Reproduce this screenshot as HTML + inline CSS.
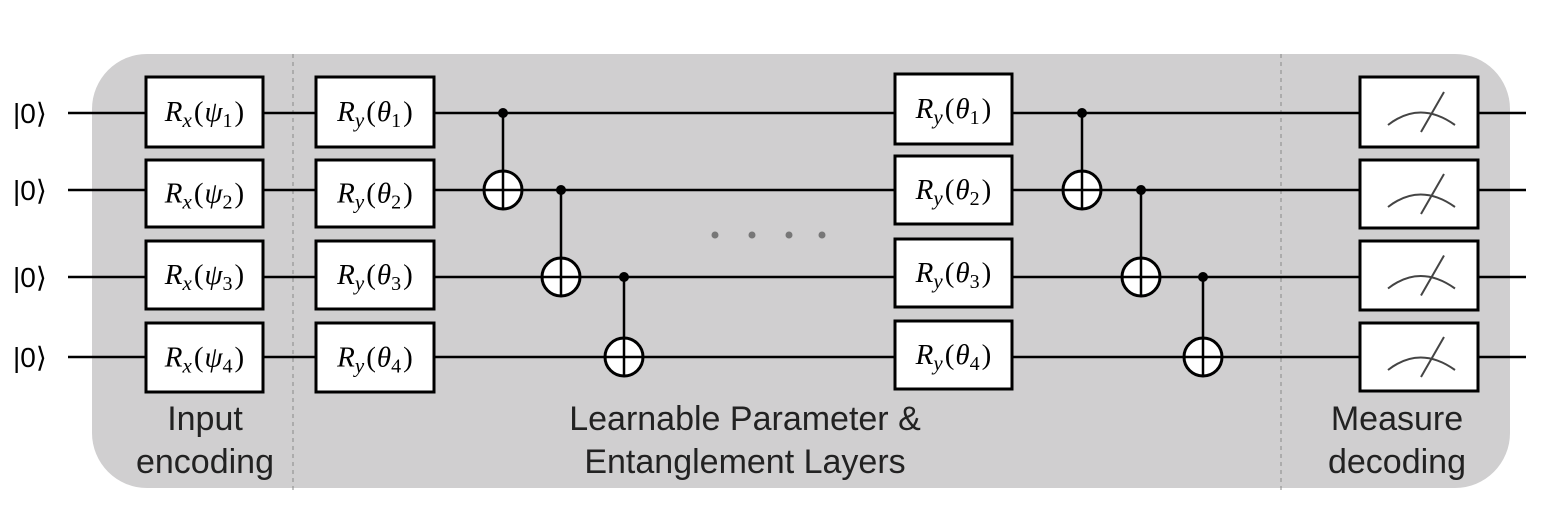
<!DOCTYPE html>
<html><head><meta charset="utf-8"><style>
html,body{margin:0;padding:0;background:#fff;width:1550px;height:528px;overflow:hidden}
svg{display:block}
.g{font-family:"Liberation Serif",serif;font-style:italic;font-size:29px}
.lbl{font-family:"Liberation Sans","Noto Sans CJK KR",sans-serif;font-size:34px;fill:#222}
</style></head><body>
<svg id="c" width="1550" height="528" viewBox="0 0 1550 528">
<rect x="92" y="54" width="1418" height="434" rx="55" fill="#d0cfd0"/>
<line x1="293" y1="54" x2="293" y2="490" stroke="#888" stroke-dasharray="4,4"/>
<line x1="1281" y1="54" x2="1281" y2="490" stroke="#888" stroke-dasharray="4,4"/>
<g id="layer"></g>
<text class="lbl" x="205" y="430" text-anchor="middle">Input</text>
<text class="lbl" x="205" y="473" text-anchor="middle">encoding</text>
<text class="lbl" x="745" y="430" text-anchor="middle">Learnable Parameter &amp;</text>
<text class="lbl" x="745" y="473" text-anchor="middle">Entanglement Layers</text>
<text class="lbl" x="1397" y="430" text-anchor="middle">Measure</text>
<text class="lbl" x="1397" y="473" text-anchor="middle">decoding</text>
</svg>
<script>
const wireY=[113,190,277,357];
const rxBoxes=[[77,147],[160,227],[241,309],[323,392]];
const ryBoxes=[[77,147],[160,227],[241,309],[323,392]];
const ry2Boxes=[[74,144],[156,224],[239,307],[321,389]];
const mBoxes=[[77,147],[160,228],[241,310],[323,391]];
const cnotX=[503,561,624,1082,1141,1203];
const cnotCtrl=[0,1,2,0,1,2];
const dotsX=[715,752,789,822];
const NS="http://www.w3.org/2000/svg";
const L=document.getElementById('layer');
function mk(t,a,p){const e=document.createElementNS(NS,t);for(const k in a)e.setAttribute(k,a[k]);(p||L).appendChild(e);return e;}
wireY.forEach((y,i)=>{
  const w=mk('line',{x1:68,y1:y,x2:1526,y2:y,stroke:'#000','stroke-width':2.5});
  
  
  const t=mk('text',{x:13,y:y+10,'font-family':'Liberation Sans, sans-serif','font-size':28});
  t.textContent='|0⟩';
  
  
});
function gate(x1,x2,b,i,sym,sub,name){
  const g=mk('g',{});
  
  
  mk('rect',{x:x1,y:b[0],width:x2-x1,height:b[1]-b[0],fill:'#fff',stroke:'#000','stroke-width':3},g);
  const t=mk('text',{x:(x1+x2)/2,y:(b[0]+b[1])/2+9,'text-anchor':'middle',class:'g'},g);
  t.innerHTML='R<tspan font-size="21" dy="6">'+sym+'</tspan><tspan dy="-6" dx="2" font-style="normal">(</tspan><tspan dx="1">'+sub+'</tspan><tspan font-size="20" dy="6" font-style="normal">'+(i+1)+'</tspan><tspan dy="-6" dx="2" font-style="normal">)</tspan>';
}
rxBoxes.forEach((b,i)=>gate(146,263,b,i,'x','ψ','rx-gate'));
ryBoxes.forEach((b,i)=>gate(316,434,b,i,'y','θ','ry-gate'));
ry2Boxes.forEach((b,i)=>gate(895,1012,b,i,'y','θ','ry-gate-layer2'));
mBoxes.forEach((b,i)=>{
  const g=mk('g',{});
  
  
  mk('rect',{x:1360,y:b[0],width:118,height:b[1]-b[0],fill:'#fff',stroke:'#000','stroke-width':3},g);
  const cy=(b[0]+b[1])/2;
  mk('path',{d:`M1388 ${cy+13} Q1420 ${cy-12} 1455 ${cy+13}`,fill:'none',stroke:'#444','stroke-width':2},g);
  mk('line',{x1:1421,y1:cy+20,x2:1444,y2:cy-20,stroke:'#444','stroke-width':2},g);
});
cnotX.forEach((x,i)=>{
  const c=cnotCtrl[i],yc=wireY[c],yt=wireY[c+1];
  const g=mk('g',{});
  
  
  mk('line',{x1:x,y1:yc,x2:x,y2:yt,stroke:'#000','stroke-width':2.5},g);
  mk('circle',{cx:x,cy:yc,r:5,fill:'#000'},g);
  mk('circle',{cx:x,cy:yt,r:19,fill:'#fff',stroke:'#000','stroke-width':3},g);
  mk('line',{x1:x-19,y1:yt,x2:x+19,y2:yt,stroke:'#000','stroke-width':2.5},g);
  mk('line',{x1:x,y1:yt-19,x2:x,y2:yt+19,stroke:'#000','stroke-width':2.5},g);
});
dotsX.forEach((x,i)=>{
  const d=mk('circle',{cx:x,cy:235,r:3.5,fill:'#777'});
  
  
});
</script>
</body></html>
